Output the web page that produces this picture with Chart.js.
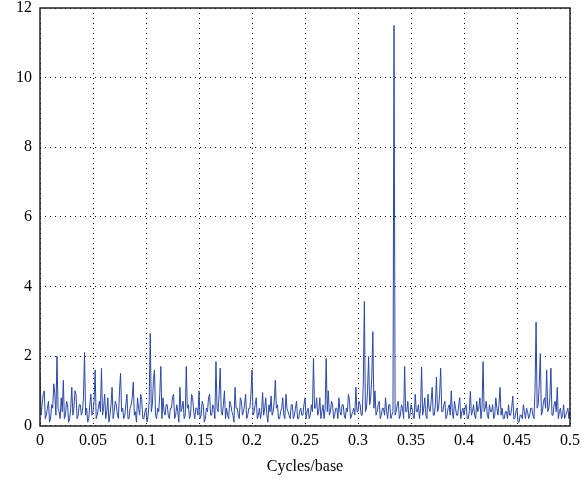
<!DOCTYPE html>
<html>
<head>
<meta charset="utf-8">
<script src="https://cdn.jsdelivr.net/npm/chart.js@4/dist/chart.umd.min.js"></script>
<style>
  html, body { margin: 0; padding: 0; background: #fff; }
  #wrap { width: 584px; height: 490px; }
</style>
</head>
<body>
<div id="wrap"><canvas id="spec" width="584" height="490"></canvas></div>
<script>
// frequency step between samples (cycles/base)
const step = 0.001;

// spectrum magnitudes, one per step
const power = [
  1.5,0.3, 0.6,0.9, 1.0,0.2, 0.3,0.5, 0.7,0.1, 0.2,0.6, 0.5,1.2, 0.9,0.3, 2.0,0.5, 0.4,0.2,
  0.8,0.4, 1.3,0.2, 0.3,0.7, 0.6,0.1, 0.2,0.5, 1.1,0.3, 0.5,1.0, 0.9,0.2, 0.3,0.6, 0.6,0.3,
  0.4,0.8, 2.1,0.3, 0.5,0.1, 0.2,0.6, 0.9,0.3, 0.4,0.7, 1.6,0.2, 0.3,0.5, 0.7,0.4, 1.65,0.3,
  0.5,0.9, 0.2,0.4, 0.8,0.1, 0.3,0.6, 1.1,0.2, 0.4,0.7, 0.6,0.3, 0.2,1.0, 1.5,0.4, 0.5,0.2,
  0.3,0.6, 0.9,0.2, 0.2,0.5, 0.6,0.8, 1.25,0.3, 0.4,0.1, 0.8,0.5, 0.3,0.9, 0.75,0.2, 0.2,0.4,
  0.5,0.1, 0.3,0.7, 2.65,0.4, 0.6,1.3, 1.6,0.3, 0.2,0.5, 0.4,0.9, 1.7,0.2, 0.8,0.4, 0.3,0.6,
  0.6,0.3, 0.2,0.5, 0.5,0.8, 0.9,0.2, 0.3,0.6, 0.4,0.1, 1.1,0.4, 0.5,0.7, 0.2,0.3, 1.7,0.5,
  0.6,0.2, 0.3,0.9, 0.8,0.4, 0.2,0.5, 0.5,0.3, 1.0,0.2, 0.3,0.7, 0.6,0.1, 0.2,0.5, 0.4,0.8,
  0.9,0.3, 0.3,0.6, 0.5,0.2, 1.84,0.5, 0.4,0.9, 1.65,0.4, 0.3,0.6, 1.0,0.2, 0.5,0.3, 0.2,0.7,
  0.6,0.4, 0.3,0.1, 1.1,0.5, 0.5,0.3, 0.2,0.8, 0.7,0.3, 0.4,0.6, 0.9,0.2, 0.3,0.5, 0.5,0.9,
  1.6,0.3, 0.4,0.6, 0.8,0.2, 0.3,0.5, 0.2,0.4, 0.95,0.3, 0.5,0.8, 0.3,0.1, 0.6,0.4, 0.85,0.3,
  0.4,0.7, 1.3,0.5, 0.6,0.2, 0.2,0.4, 0.5,0.8, 0.3,0.2, 0.9,0.5, 0.4,0.3, 0.2,0.6, 0.6,0.2,
  0.3,0.5, 0.7,0.2, 0.2,0.4, 0.5,0.3, 0.3,0.6, 0.8,0.2, 0.4,0.5, 0.2,0.3, 0.6,0.4, 1.93,0.5,
  0.5,0.8, 0.3,0.4, 0.8,0.2, 0.4,0.6, 0.2,0.5, 1.93,0.4, 1.0,0.3, 0.4,0.7, 0.6,0.2, 0.3,0.5,
  0.5,0.2, 0.8,0.4, 0.3,0.6, 0.6,0.3, 0.2,0.5, 0.4,0.9, 0.7,0.2, 0.3,0.4, 0.5,0.3, 1.1,0.4,
  0.4,0.7, 0.6,0.3, 0.3,1.2, 3.57,0.4, 0.5,1.0, 1.98,0.6, 0.8,1.4, 2.7,0.5, 1.0,0.3, 0.4,0.6,
  0.7,0.2, 0.3,0.5, 0.5,0.3, 0.8,0.4, 0.2,0.6, 0.6,0.2, 0.3,0.4, 11.5,0.3, 0.4,0.6, 0.7,0.2,
  0.3,0.6, 0.5,0.2, 1.7,0.4, 0.4,0.7, 0.2,0.3, 0.6,0.5, 0.3,0.2, 0.9,0.4, 0.4,0.6, 0.2,0.5,
  1.68,0.3, 0.5,0.8, 0.3,0.2, 0.9,0.5, 0.4,0.7, 1.1,0.3, 0.3,0.6, 1.4,0.4, 0.5,0.9, 1.65,0.4,
  0.4,0.6, 0.7,0.2, 0.3,0.5, 0.6,0.3, 1.0,0.4, 0.2,0.7, 0.5,0.3, 0.3,0.6, 0.8,0.2, 0.4,0.5,
  0.3,0.5, 0.6,0.2, 0.2,0.4, 0.98,0.3, 0.4,0.6, 0.3,0.2, 0.7,0.4, 0.5,0.8, 0.2,0.5, 1.84,0.4,
  0.5,0.7, 0.3,0.2, 0.6,0.4, 0.4,0.6, 0.2,0.3, 0.8,0.5, 0.3,0.6, 1.1,0.3, 0.5,0.2, 0.2,0.4,
  0.4,0.2, 0.6,0.3, 0.3,0.5, 0.85,0.2, 0.2,0.4, 0.5,0.1, 0.1,0.3, 0.3,0.2, 0.6,0.4, 0.2,0.5,
  0.4,0.2, 0.3,0.5, 0.5,0.3, 0.2,1.0, 2.97,0.5, 0.6,1.2, 2.07,0.3, 0.4,0.7, 0.8,0.5, 1.6,0.4,
  0.5,0.8, 1.65,0.3, 0.3,0.6, 0.7,0.4, 1.1,0.2, 0.4,0.5, 0.2,0.3, 0.6,0.2, 0.3,0.4, 0.5,0.2, 0.4
];

const xTicks = [0, 0.05, 0.1, 0.15, 0.2, 0.25, 0.3, 0.35, 0.4, 0.45, 0.5];
const yTicks = [0, 2, 4, 6, 8, 10, 12];

const points = power.map((v, i) => ({ x: +(i * step).toFixed(4), y: v }));

const font = { family: "'Liberation Serif', 'DejaVu Serif', serif", size: 16 };

// solid box round the plot area
const frame = {
  id: 'frame',
  afterDraw(chart) {
    const { ctx, chartArea: a } = chart;
    const l = Math.round(a.left), t = Math.round(a.top);
    const r = Math.round(a.right), b = Math.round(a.bottom);
    ctx.save();
    ctx.strokeStyle = '#222';
    ctx.lineWidth = 1.5;
    ctx.setLineDash([]);
    ctx.beginPath();
    ctx.moveTo(l, t); ctx.lineTo(r, t); ctx.lineTo(r, b); ctx.lineTo(l, b); ctx.closePath();
    ctx.stroke();
    ctx.restore();
  }
};

new Chart(document.getElementById('spec'), {
  type: 'line',
  data: {
    datasets: [{
      data: points,
      borderColor: '#2a48a6',
      borderWidth: 1,
      pointRadius: 0,
      tension: 0,
      fill: false
    }]
  },
  options: {
    responsive: false,
    animation: false,
    layout: { padding: { left: 8, right: 14, top: 8, bottom: 10 } },
    plugins: { legend: { display: false }, tooltip: { enabled: false } },
    scales: {
      x: {
        type: 'linear',
        min: 0,
        max: 0.5,
        afterBuildTicks: s => { s.ticks = xTicks.map(v => ({ value: v })); },
        afterFit: s => { s.paddingRight = 0; s.paddingLeft = 0; },
        ticks: { color: '#000', font, padding: 6, maxRotation: 0,
          callback: v => String(v) },
        grid: { color: '#000', lineWidth: 1, drawTicks: false },
        border: { display: false, dash: [1, 4] },
        title: { display: true, text: 'Cycles/base', color: '#000', font, padding: { top: 0 } }
      },
      y: {
        min: 0,
        max: 12,
        afterBuildTicks: s => { s.ticks = yTicks.map(v => ({ value: v })); },
        afterFit: s => { s.paddingTop = 0; s.paddingBottom = 0; },
        ticks: { color: '#000', font, padding: 8 },
        grid: { color: '#000', lineWidth: 1, drawTicks: false },
        border: { display: false, dash: [1, 4] }
      }
    }
  },
  plugins: [frame]
});
</script>
</body>
</html>
